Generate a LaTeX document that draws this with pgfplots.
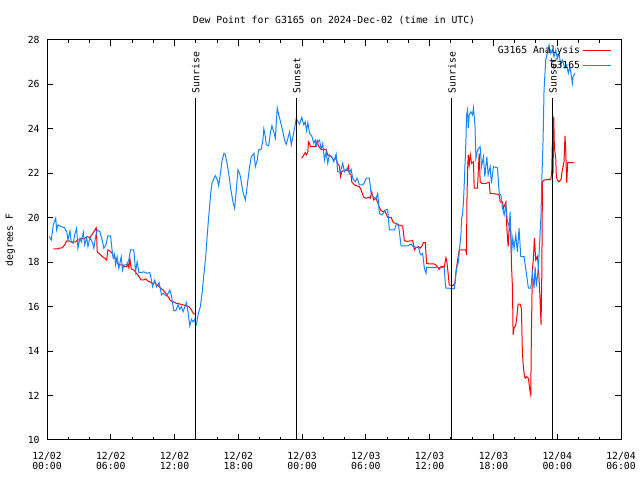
\documentclass[border=0pt]{standalone}
\usepackage{pgfplots}
\pgfplotsset{compat=1.18}
\usepackage{pgfplotstable}
\usepackage{fontspec}
\setmainfont{DejaVu Sans Mono}

\definecolor{anared}{RGB}{255,0,0}
\definecolor{obsblue}{RGB}{20,135,255}

% G3165 Analysis (hours since 12/02 00:00 UTC, deg F)
\pgfplotstableread{
h F
0.59 18.60
0.97 18.60
1.13 18.63
1.44 18.65
1.66 18.78
1.85 18.96
2.07 18.96
2.23 18.92
2.69 18.92
2.85 19.00
3.10 19.00
3.22 19.08
3.41 19.05
3.63 19.10
3.78 19.15
4.04 19.10
4.25 19.26
4.41 19.37
4.63 19.55
4.67 19.23
4.72 18.47
5.04 18.33
5.35 18.20
5.61 18.10
5.73 18.55
5.92 18.51
6.13 18.40
6.29 18.20
6.45 18.18
6.67 17.91
6.76 17.88
7.07 17.88
7.23 17.80
7.48 17.80
7.61 17.91
7.70 17.75
7.79 18.18
7.92 17.70
8.17 17.65
8.33 17.55
8.54 17.43
8.73 17.30
8.85 17.20
9.11 17.20
9.27 17.25
9.48 17.16
9.67 17.12
9.93 17.05
10.14 17.08
10.36 16.98
10.61 16.87
10.92 16.75
11.17 16.60
11.39 16.45
11.62 16.27
11.86 16.22
12.18 16.15
12.49 16.12
12.80 16.08
13.12 16.03
13.36 16.00
13.59 15.85
13.80 15.67
14.06 15.67
19.00 nan
23.97 22.68
24.16 22.83
24.29 22.93
24.41 22.83
24.54 22.97
24.60 23.42
24.70 23.35
24.79 23.20
25.23 23.20
25.42 23.47
25.54 23.23
25.79 23.08
26.26 23.08
26.41 22.83
26.73 22.75
26.98 22.60
27.20 22.68
27.35 22.42
27.51 22.33
27.61 21.85
27.73 22.07
27.98 22.15
28.24 22.12
28.36 22.33
28.45 22.00
28.61 21.93
28.67 21.62
28.92 21.48
29.17 21.43
29.39 21.40
29.55 21.25
29.80 20.92
30.02 20.88
30.23 20.92
30.42 20.88
30.55 21.17
30.73 20.80
30.96 20.88
31.11 20.68
31.27 20.47
31.43 20.32
31.67 20.27
31.74 20.32
31.90 20.20
32.05 20.02
32.37 20.02
32.58 19.78
32.84 19.75
33.08 19.68
33.46 19.63
33.62 18.97
33.84 18.94
34.40 18.97
34.56 18.55
34.72 18.67
34.96 18.70
35.09 18.63
35.28 18.73
35.40 18.88
35.59 18.88
35.71 17.95
35.97 17.92
36.43 17.92
36.59 17.88
36.74 17.77
36.90 17.68
37.06 17.80
37.37 17.80
37.53 18.20
37.62 18.02
37.75 17.43
37.84 16.98
38.15 16.94
38.38 17.05
38.47 17.57
38.63 18.10
38.78 18.55
39.41 18.55
39.47 18.33
39.50 20.58
39.56 22.07
39.63 22.83
39.72 22.38
39.82 22.83
39.94 22.45
40.12 22.52
40.19 21.33
40.50 21.33
40.57 22.07
40.66 22.90
40.75 21.62
40.88 21.55
41.29 21.55
41.60 21.60
41.69 21.10
42.38 21.06
42.54 21.03
42.63 20.72
42.85 20.72
42.94 20.43
43.17 20.70
43.26 19.53
43.38 18.70
43.48 19.53
43.64 19.37
43.69 17.95
43.79 16.83
43.85 14.73
43.94 15.03
44.10 15.18
44.20 15.55
44.32 16.11
44.51 16.11
44.63 15.93
44.72 13.97
44.79 13.45
44.88 13.00
44.98 12.78
45.10 12.85
45.29 12.78
45.42 12.25
45.51 12.03
45.57 14.73
45.66 17.65
45.76 18.18
45.85 19.08
45.98 18.10
46.14 18.25
46.23 17.80
46.36 16.60
46.48 15.18
46.55 17.50
46.61 21.62
46.76 21.70
47.39 21.73
47.48 22.00
47.54 23.35
47.61 22.00
47.67 24.55
47.73 23.20
47.86 22.68
47.92 21.85
48.01 21.70
48.17 21.62
48.36 21.73
48.48 22.15
48.64 22.52
48.73 23.68
48.80 23.05
48.89 21.58
48.99 22.48
49.58 22.48
}\redtab

% G3165 observations
\pgfplotstableread{
h F
0.22 19.15
0.40 19.00
0.59 19.68
0.82 19.98
0.91 19.45
1.03 19.68
1.34 19.60
1.66 19.55
1.76 19.41
1.85 19.41
1.97 19.00
2.16 19.41
2.28 18.92
2.47 18.85
2.60 19.23
2.79 19.53
2.91 18.63
3.10 19.08
3.22 18.92
3.41 19.35
3.54 18.78
3.73 19.10
3.85 18.70
4.04 19.10
4.25 18.92
4.41 18.63
4.57 19.15
4.72 19.45
4.98 19.37
5.19 19.00
5.35 18.63
5.54 18.78
5.73 19.19
5.98 19.19
6.13 18.51
6.23 18.18
6.36 18.36
6.45 17.88
6.60 18.25
6.76 17.73
6.98 18.25
7.11 17.65
7.23 17.88
7.48 17.88
7.70 18.10
7.86 18.55
8.17 18.55
8.33 17.57
8.48 18.02
8.64 17.54
8.95 17.54
9.11 17.57
9.42 17.50
9.67 17.54
9.79 17.28
9.93 16.90
10.14 17.20
10.30 16.90
10.55 17.08
10.77 16.53
10.92 16.60
11.24 16.48
11.39 16.60
11.55 16.75
11.71 16.48
11.93 15.82
12.11 15.82
12.33 16.08
12.49 15.88
12.65 16.00
12.80 15.77
13.12 16.18
13.27 15.77
13.43 15.13
13.59 15.43
13.74 15.32
13.90 15.43
13.99 15.13
14.11 15.32
14.24 15.70
14.43 16.00
14.62 16.75
14.74 17.35
14.93 18.25
15.09 19.30
15.21 20.05
15.31 20.58
15.40 21.10
15.52 21.55
15.71 21.78
15.84 21.89
16.03 21.70
16.15 21.44
16.34 22.07
16.46 22.56
16.65 22.90
16.78 22.83
16.97 22.38
17.09 22.00
17.28 21.33
17.49 20.72
17.65 20.43
17.81 21.25
17.96 22.15
18.12 22.00
18.28 21.62
18.43 21.17
18.66 20.80
18.75 21.10
18.90 21.70
19.06 22.30
19.22 22.75
19.47 22.90
19.60 22.30
19.78 22.60
19.91 23.05
20.16 23.10
20.31 23.50
20.40 24.00
20.54 23.65
20.63 23.28
20.85 23.24
21.03 23.87
21.16 24.14
21.34 23.85
21.48 23.58
21.66 24.95
21.79 24.66
21.97 24.32
22.19 23.87
22.35 23.50
22.51 23.31
22.66 23.58
22.82 23.87
22.98 23.28
23.13 23.65
23.29 24.03
23.45 24.48
23.60 24.32
23.76 24.21
23.97 24.52
24.16 24.18
24.29 24.32
24.41 23.92
24.54 24.28
24.70 23.80
24.91 23.68
25.10 23.35
25.23 23.50
25.35 23.23
25.48 23.42
25.64 23.50
25.79 23.08
25.94 23.35
26.10 22.60
26.26 22.97
26.41 22.45
26.57 22.83
26.79 22.75
26.98 22.52
27.20 22.87
27.35 22.07
27.61 22.07
27.82 22.45
27.98 22.07
28.24 22.23
28.45 22.00
28.61 22.18
28.76 21.78
28.99 21.62
29.17 21.78
29.39 21.48
29.70 21.48
29.86 21.58
30.02 21.78
30.33 21.78
30.49 21.10
30.73 20.92
30.96 20.88
31.11 21.10
31.27 20.20
31.52 20.13
31.83 20.35
32.05 20.38
32.21 19.45
32.68 19.45
32.89 19.75
33.08 19.63
33.31 18.73
33.93 18.73
34.25 18.82
34.40 18.73
34.72 18.67
34.96 18.67
35.09 18.40
35.19 18.33
35.34 18.40
35.50 17.73
35.66 17.50
35.71 17.77
35.97 17.77
37.37 17.77
37.47 17.05
37.53 16.83
37.84 16.83
38.31 16.80
38.41 17.20
38.53 17.73
38.72 18.02
38.78 18.47
38.94 19.23
39.00 19.98
39.09 20.13
39.18 20.72
39.25 21.48
39.41 23.42
39.47 24.63
39.56 24.85
39.63 24.03
39.72 24.63
39.88 24.77
40.03 24.63
40.12 24.95
40.26 24.18
40.35 22.68
40.50 23.05
40.75 23.20
40.88 22.30
41.06 22.75
41.19 21.85
41.38 22.75
41.50 21.93
41.69 22.30
41.81 21.55
42.00 22.30
42.38 22.25
42.54 21.10
42.70 21.03
42.85 20.43
43.01 20.13
43.17 20.58
43.32 19.82
43.48 19.60
43.57 20.27
43.69 18.33
43.82 19.08
43.94 18.63
44.10 19.23
44.25 18.47
44.41 19.53
44.57 18.25
44.88 18.25
45.10 17.50
45.29 16.83
45.51 16.83
45.66 17.50
45.82 16.83
45.92 17.80
46.04 16.90
46.23 17.80
46.36 19.00
46.48 20.20
46.55 21.70
46.67 23.50
46.76 25.75
46.92 27.10
47.07 27.40
47.23 27.78
47.39 27.40
47.54 27.55
47.70 27.25
47.86 27.55
48.01 27.18
48.17 27.40
48.33 26.88
48.48 27.10
48.73 26.73
48.89 26.88
49.04 26.50
49.18 26.80
49.27 26.57
49.43 26.05
49.49 26.35
49.67 26.50
}\bluetab

\begin{document}
\fontsize{9.8}{11}\selectfont
\begin{tikzpicture}
\useasboundingbox (0,0) rectangle (640bp,480bp);
\begin{axis}[
    at={(47bp,40bp)}, anchor=south west,
    scale only axis, width=574bp, height=400bp,
    xmin=0, xmax=54, ymin=10, ymax=28,
    xtick={0,6,...,54},
    xticklabels={{12/02\\00:00},{12/02\\06:00},{12/02\\12:00},{12/02\\18:00},{12/03\\00:00},{12/03\\06:00},{12/03\\12:00},{12/03\\18:00},{12/04\\00:00},{12/04\\06:00}},
    xticklabel style={align=center, font=\fontsize{9.8}{10}\selectfont, yshift=-9bp},
    minor x tick num=2,
    ytick={10,12,...,28},
    yticklabel style={xshift=-4bp},
    /pgf/number format/assume math mode=true,
    tick align=inside,
    major tick length=6bp, minor tick length=3bp,
    axis line style={line width=1bp},
    every tick/.style={black, line width=1bp},
    title={Dew Point for G3165 on 2024-Dec-02 (time in UTC)},
    title style={at={(axis description cs:0.5,1.035)}, anchor=center},
    ylabel={degrees F},
    ylabel style={at={(axis description cs:-0.064,0.5)}, anchor=center},
    legend style={draw=none, fill=none, at={(axis description cs:0.983,0.99)},
        anchor=north east, inner sep=0pt, row sep=2bp},
    legend cell align=right,
    legend plot pos=right,
    legend image code/.code={\draw[#1] (0bp,0bp) -- (28bp,0bp);},
    every axis plot/.append style={line width=1bp},
]
\addplot[anared, unbounded coords=jump] table[x=h, y=F] {\redtab};
\addlegendentry{G3165 Analysis}
\addplot[obsblue] table[x=h, y=F] {\bluetab};
\addlegendentry{G3165}

% sunrise / sunset markers
\addplot[black, forget plot] coordinates {(14.0,10) (14.0,25.39)};
\addplot[black, forget plot] coordinates {(23.5,10) (23.5,25.39)};
\addplot[black, forget plot] coordinates {(38.1,10) (38.1,25.39)};
\addplot[black, forget plot] coordinates {(47.6,10) (47.6,25.39)};
\node[rotate=90, anchor=west, inner sep=0pt] at (axis cs:14.0,25.6) {Sunrise};
\node[rotate=90, anchor=west, inner sep=0pt] at (axis cs:23.5,25.6) {Sunset};
\node[rotate=90, anchor=west, inner sep=0pt] at (axis cs:38.1,25.6) {Sunrise};
\node[rotate=90, anchor=west, inner sep=0pt] at (axis cs:47.6,25.6) {Sunset};
\end{axis}
\end{tikzpicture}
\end{document}
